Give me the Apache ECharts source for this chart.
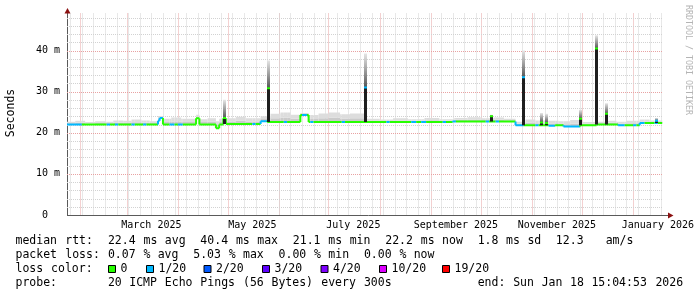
<!DOCTYPE html>
<html>
<head>
<meta charset="utf-8">
<script src="https://cdn.jsdelivr.net/npm/echarts@6/dist/echarts.min.js"></script>
<style>
html,body{margin:0;padding:0;background:#ffffff;}
#chart{width:697px;height:297px;}
</style>
</head>
<body>
<div id="chart"></div>
<script>
// ================= DATA =================
const xStart = '2025-01-24T00:40';
const xEnd = '2026-01-18T15:05';
const yMax = 49;
const yTickValues = [0, 10, 20, 30, 40];
const yMinorValues = [2,4,6,8,12,14,16,18,22,24,26,28,32,34,36,38,42,44,46,48];
const xLabelDates = ['2025-03-16','2025-05-16','2025-07-16','2025-09-16','2025-11-16','2026-01-16'];
const xLabelTexts = ['March 2025','May 2025','July 2025','September 2025','November 2025','January 2026'];
const monthStarts = ['2025-02-01','2025-03-01','2025-04-01','2025-05-01','2025-06-01','2025-07-01',
  '2025-08-01','2025-09-01','2025-10-01','2025-11-01','2025-12-01','2026-01-01'];
const firstWeekLine = '2025-01-26';

// median rtt (ms), piecewise: start date, value, loss (pings lost of 20)
const medStart = ['2025-01-24','2025-02-02','2025-02-17','2025-02-19','2025-02-22','2025-02-24','2025-03-04','2025-03-06',
  '2025-03-11','2025-03-13','2025-03-20','2025-03-21','2025-03-23','2025-03-27','2025-03-30','2025-04-01','2025-04-04',
  '2025-04-12','2025-04-14','2025-04-24','2025-04-26','2025-04-28T12:00','2025-04-30','2025-05-16','2025-05-18','2025-05-21',
  '2025-05-25','2025-06-04','2025-06-06','2025-06-14','2025-06-15','2025-06-18','2025-06-19','2025-06-20','2025-06-22',
  '2025-07-09','2025-07-11','2025-08-05','2025-08-07','2025-08-20','2025-08-23','2025-08-26','2025-08-29','2025-09-08',
  '2025-09-10','2025-09-14','2025-09-16','2025-10-04','2025-10-06','2025-10-10','2025-10-12','2025-10-22','2025-10-27',
  '2025-11-03','2025-11-05','2025-11-11','2025-11-15','2025-11-20','2025-11-30','2025-12-10','2025-12-23','2025-12-27',
  '2026-01-01','2026-01-03','2026-01-05','2026-01-08','2026-01-14','2026-01-16'];
const medValue = [22.0,22.0,22.0,22.0,22.0,22.0,22.0,22.0,
  22.0,22.0,22.9,23.6,22.0,22.0,22.0,22.0,22.0,
  23.5,22.0,21.1,22.0,23.5,22.1,22.1,22.1,22.8,
  22.6,22.6,22.6,24.3,24.3,24.3,22.6,22.6,22.6,
  22.6,22.6,22.6,22.6,22.6,22.6,22.6,22.6,22.6,
  22.6,22.75,22.75,22.75,22.75,22.75,22.75,21.8,21.8,
  21.8,21.8,21.7,21.8,21.5,21.8,22.0,21.8,21.8,
  21.8,21.8,22.35,22.35,22.35,22.35];
const medLoss = [1,0,1,0,1,0,1,0,
  1,0,1,1,0,1,0,1,0,
  0,0,0,0,0,0,1,0,1,
  0,1,0,0,1,0,0,1,0,
  1,0,1,0,1,0,1,0,1,
  0,1,0,1,0,1,0,1,0,
  1,0,1,0,1,0,0,1,0,
  1,0,1,0,1,0];

// smoke (spread of the 20 pings): start date, upper edge (ms)
const smokeStart = ['2025-01-24','2025-01-29','2025-02-04','2025-02-10','2025-02-16','2025-02-21','2025-02-27','2025-03-04',
  '2025-03-10','2025-03-15','2025-03-20','2025-03-23','2025-03-28','2025-04-03','2025-04-12','2025-04-14','2025-04-19',
  '2025-04-24','2025-04-26','2025-04-30','2025-05-06','2025-05-12','2025-05-21','2025-05-27','2025-06-02','2025-06-08',
  '2025-06-14','2025-06-19','2025-06-25','2025-07-01','2025-07-08','2025-07-14','2025-07-24','2025-08-01','2025-08-09',
  '2025-08-18','2025-08-28','2025-09-06','2025-09-15','2025-09-23','2025-10-01','2025-10-09','2025-10-15','2025-10-22',
  '2025-10-28','2025-11-03','2025-11-10','2025-11-17','2025-11-24','2025-12-01','2025-12-10','2025-12-16','2025-12-22',
  '2025-12-28','2026-01-05','2026-01-11'];
const smokeHigh = [22.7,22.9,22.6,22.8,22.7,23.0,22.9,23.2,
  23.0,22.8,24.1,23.4,23.7,23.4,24.4,23.3,23.5,
  22.8,23.4,23.5,23.9,23.5,24.0,24.6,24.9,24.4,
  24.8,24.3,24.7,24.9,24.5,24.7,23.4,23.2,23.5,
  23.3,23.6,23.3,23.6,23.8,23.5,23.7,23.4,22.7,
  23.2,23.0,22.9,22.8,23.1,22.6,22.7,22.9,22.7,
  22.9,23.2,23.0];

// latency spikes: date, base, median peak, smoke peak, loss
const spikeDate = ['2025-04-29T06:00','2025-05-25T12:00','2025-07-23T14:00','2025-10-07T08:00','2025-10-26T14:00',
  '2025-11-06T10:00','2025-11-09T10:00','2025-11-30T12:00','2025-12-10T02:00','2025-12-16T02:00','2026-01-15T00:00'];
const spikeBase = [22.1,22.6,22.6,22.75,21.8,21.8,21.8,21.8,22.0,22.0,22.35];
const spikeMed  = [23.6,30.8,31.0,24.0,33.5,22.5,22.4,23.4,40.5,24.6,22.9];
const spikeTop  = [28.0,37.6,39.3,24.4,40.0,24.8,24.6,25.6,43.7,27.2,23.6];
const spikeLoss = [0,0,1,0,1,0,0,0,0,0,1];

const lossLabels = ['0','1/20','2/20','3/20','4/20','10/20','19/20'];
const lossSteps = [0,1,2,3,4,10,19];
const lossColors = ['#26ff00','#00b8ff','#0059ff','#5e00ff','#7e00ff','#dd00ff','#ff0000'];

const legendLine1 = 'median rtt:  22.4 ms avg  40.4 ms max  21.1 ms min  22.2 ms now  1.8 ms sd  12.3   am/s';
const legendLine2 = 'packet loss: 0.07 % avg  5.03 % max  0.00 % min  0.00 % now';
const legendLine3 = 'loss color:';
const legendLine4 = 'probe:       20 ICMP Echo Pings (56 Bytes) every 300s            end: Sun Jan 18 15:04:53 2026';
const yAxisTitle = 'Seconds';
const watermark = 'RRDTOOL / TOBI OETIKER';

// ================= HELPERS =================
function T(s){
  const parts = s.split('T');
  const d = parts[0].split('-').map(Number);
  let h = 0, mi = 0;
  if (parts[1]) { const tm = parts[1].split(':').map(Number); h = tm[0]; mi = tm[1] || 0; }
  return Date.UTC(d[0], d[1]-1, d[2], h, mi);
}
const tMin = T(xStart), tMax = T(xEnd);
function colorOf(loss){ const i = lossSteps.indexOf(loss); return lossColors[i < 0 ? 0 : i]; }
function valueAt(starts, vals, t){ let r = vals[0]; for (let i=0;i<starts.length;i++){ if (starts[i] <= t) r = vals[i]; else break; } return r; }

const medT = medStart.map(T);
const smokeT = smokeStart.map(T);
const medianData = medT.map((t,i)=>[t, i+1<medT.length?medT[i+1]:tMax, medValue[i], medLoss[i], i>0?medValue[i-1]:-1]);
const bps = Array.from(new Set(medT.concat(smokeT))).sort((a,b)=>a-b);
const smokeData = [];
bps.forEach((s,i)=>{
  const e = i+1<bps.length ? bps[i+1] : tMax;
  const lo = valueAt(medT, medValue, s), hi = valueAt(smokeT, smokeHigh, s);
  if (hi > lo) smokeData.push([s, e, lo, hi]);
});
const spikeData = spikeDate.map((d,i)=>[T(d), spikeBase[i], spikeMed[i], spikeTop[i], spikeLoss[i]]);

const vLines = [];
monthStarts.forEach(d=>vLines.push([T(d), 0, 1]));
for (let t=T(firstWeekLine); t<tMax; t+=7*86400000) vLines.push([t, 0, 0]);
const hLines = [];
yMinorValues.forEach(v=>hLines.push([tMin, v, 0]));
yTickValues.filter(v=>v>0).forEach(v=>hLines.push([tMin, v, 1]));

// ================= CHART =================
const MONO = '"DejaVu Sans Mono", monospace';
const chart = echarts.init(document.getElementById('chart'), null, {renderer:'canvas', width:697, height:297});
const GRID = {left:67, top:13.5, right:32, bottom:82};

function renderVGrid(params, api){
  const cs = params.coordSys;
  const x = Math.round(api.coord([api.value(0), 0])[0]) + 0.5;
  const major = api.value(2) === 1;
  return {type:'line', shape:{x1:x, y1:cs.y, x2:x, y2:cs.y+cs.height},
    style:{stroke: major ? '#e8a2a2' : '#d2d2d2', lineWidth:1, lineDash:[1,1]}};
}
function renderHGrid(params, api){
  const cs = params.coordSys;
  const y = Math.round(api.coord([tMin, api.value(1)])[1]) + 0.5;
  const major = api.value(2) === 1;
  return {type:'line', shape:{x1:cs.x, y1:y, x2:cs.x+cs.width, y2:y},
    style:{stroke: major ? '#e8a2a2' : '#d2d2d2', lineWidth:1, lineDash:[1,1]}};
}
function renderSmoke(params, api){
  const s=api.value(0), e=api.value(1), lo=api.value(2), hi=api.value(3);
  const mid = lo + (hi-lo)*0.45;
  const a=api.coord([s,hi]), b=api.coord([e,mid]), c=api.coord([e,lo]);
  return {type:'group', children:[
    {type:'rect', shape:{x:a[0], y:b[1], width:b[0]-a[0], height:c[1]-b[1]}, style:{fill:'#cacaca'}},
    {type:'rect', shape:{x:a[0], y:a[1], width:b[0]-a[0], height:b[1]-a[1]}, style:{fill:'#dddddd'}}
  ]};
}
function renderMedian(params, api){
  const ts=api.value(0), te=api.value(1), v=api.value(2), loss=api.value(3), pv=api.value(4);
  const a=api.coord([ts,v]), b=api.coord([te,v]);
  const col = colorOf(loss);
  const children=[{type:'line', shape:{x1:a[0], y1:a[1], x2:b[0], y2:b[1]}, style:{stroke:col, lineWidth:2}}];
  if (pv >= 0 && pv !== v){
    const c = api.coord([ts,pv]);
    children.push({type:'line', shape:{x1:a[0], y1:c[1], x2:a[0], y2:a[1]}, style:{stroke:col, lineWidth:2}});
  }
  return {type:'group', children};
}
function renderSpike(params, api){
  const t=api.value(0), base=api.value(1), med=api.value(2), top=api.value(3), loss=api.value(4);
  const pb=api.coord([t,base]), pm=api.coord([t,med]), pt=api.coord([t,top]);
  const w=3, x=Math.round(pb[0]-w/2);
  return {type:'group', children:[
    {type:'rect', shape:{x:x, y:pt[1], width:w, height:pm[1]-pt[1]},
      style:{fill:new echarts.graphic.LinearGradient(0,0,0,1,[{offset:0,color:'#e6e6e6'},{offset:1,color:'#555555'}])}},
    {type:'rect', shape:{x:x, y:pm[1], width:w, height:pb[1]-pm[1]}, style:{fill:'#1e1e1e'}},
    {type:'line', shape:{x1:x, y1:pm[1], x2:x+w, y2:pm[1]}, style:{stroke:colorOf(loss), lineWidth:2}}
  ]};
}

// legend texts
const CW = 7.11, X0 = 15.5;
const graphics = [];
function placeLine(str, y){
  const re = /\S+/g; let m;
  while ((m = re.exec(str)) !== null){
    graphics.push({type:'text', x: X0 + m.index*CW, y: y, silent:true,
      style:{text:m[0], font:'11.5px '+MONO, fill:'#000', verticalAlign:'middle'}});
  }
}
placeLine(legendLine1, 241);
placeLine(legendLine2, 255);
placeLine(legendLine3, 269);
placeLine(legendLine4, 283);
const boxX = [108, 146, 203.5, 262, 320.5, 379, 442];
lossLabels.forEach((lab,i)=>{
  graphics.push({type:'rect', shape:{x:boxX[i]+0.5, y:265.5, width:7, height:7}, silent:true,
    style:{fill:lossColors[i], stroke:'#000', lineWidth:1}});
  graphics.push({type:'text', x: boxX[i]+12.5, y:269, silent:true,
    style:{text:lab, font:'11.5px '+MONO, fill:'#000', verticalAlign:'middle'}});
});
// axis lines and arrows
graphics.push({type:'line', shape:{x1:67.5, y1:215.5, x2:67.5, y2:11}, silent:true, style:{stroke:'#5a5a5a', lineWidth:1}});
graphics.push({type:'line', shape:{x1:67, y1:215.5, x2:670, y2:215.5}, silent:true, style:{stroke:'#5a5a5a', lineWidth:1}});
graphics.push({type:'polygon', shape:{points:[[64.5,13.5],[70.5,13.5],[67.5,8]]}, silent:true, style:{fill:'#8b1010'}});
graphics.push({type:'polygon', shape:{points:[[668,212.5],[668,218.5],[673.5,215.5]]}, silent:true, style:{fill:'#8b1010'}});
// rotated titles
graphics.push({type:'text', x:11, y:113, rotation:Math.PI/2, silent:true,
  style:{text:yAxisTitle, font:'11.5px '+MONO, fill:'#000', align:'center', verticalAlign:'middle'}});
graphics.push({type:'text', x:688.5, y:60, rotation:-Math.PI/2, silent:true,
  style:{text:watermark, font:'8.3px '+MONO, fill:'#b4b4b4', align:'center', verticalAlign:'middle'}});

const xLabelT = xLabelDates.map(T);
chart.setOption({
  animation:false,
  backgroundColor:'#ffffff',
  grid:GRID,
  xAxis:{type:'value', min:tMin, max:tMax,
    axisLine:{show:false}, axisTick:{show:false}, splitLine:{show:false},
    axisLabel:{customValues:xLabelT, margin:5, color:'#000', fontFamily:MONO, fontSize:10,
      formatter:(v)=>{ const i=xLabelT.indexOf(v); return i>=0 ? xLabelTexts[i] : ''; }}},
  yAxis:{type:'value', min:0, max:yMax,
    axisLine:{show:false}, axisTick:{show:false}, splitLine:{show:false},
    axisLabel:{customValues:yTickValues, margin:7, color:'#000', fontFamily:MONO, fontSize:10,
      formatter:(v)=> v===0 ? '0  ' : (v+' m')}},
  series:[
    {type:'custom', name:'vgrid', renderItem:renderVGrid, data:vLines, encode:{x:0,y:1}, silent:true, z:1},
    {type:'custom', name:'hgrid', renderItem:renderHGrid, data:hLines, encode:{x:0,y:1}, silent:true, z:1},
    {type:'custom', name:'smoke', renderItem:renderSmoke, data:smokeData, encode:{x:[0,1],y:[2,3]}, clip:true, silent:true, z:2},
    {type:'custom', name:'median', renderItem:renderMedian, data:medianData, encode:{x:[0,1],y:2}, clip:true, silent:true, z:3},
    {type:'custom', name:'spikes', renderItem:renderSpike, data:spikeData, encode:{x:0,y:[1,2,3]}, clip:true, silent:true, z:4}
  ],
  graphic:graphics
});
</script>
</body>
</html>
